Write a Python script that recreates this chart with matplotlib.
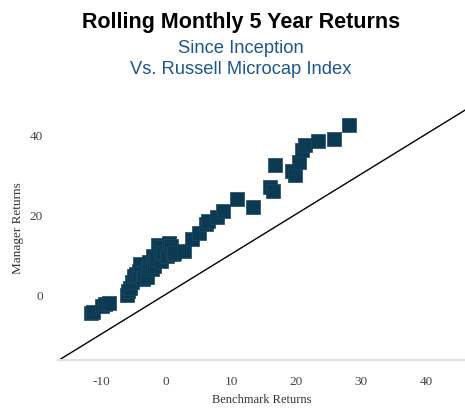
import matplotlib
matplotlib.use("Agg")
import matplotlib.pyplot as plt

plt.rcParams["axes.unicode_minus"] = False

# Rolling 5 year returns: benchmark (x) vs manager (y)
benchmark = [-11.5, -11.3, -9.8, -9.4, -8.8, -6.0, -5.8, -5.5, -5.3, -5.0,
             -4.6, -4.2, -4.0, -3.6, -3.4, -3.0, -2.8, -2.6, -2.2, -2.0,
             -1.8, -1.5, -1.3, -1.0, -0.8, -0.4, 0.1, 0.4, 0.7, 1.0,
             1.2, 2.7, 4.0, 5.1, 6.2, 6.5, 7.8, 8.8, 10.9, 13.4,
             16.0, 16.4, 16.7, 19.4, 19.9, 20.5, 20.9, 21.4, 23.4, 25.8, 28.2]
manager = [-4.8, -4.4, -3.0, -2.4, -2.2, -0.2, 0.9, 1.5, 3.0, 4.6,
           5.0, 5.8, 7.6, 3.8, 5.4, 4.2, 6.6, 8.0, 6.2, 9.6,
           7.1, 8.8, 12.4, 11.8, 8.3, 10.4, 9.6, 12.9, 12.1, 10.0,
           10.4, 10.8, 13.8, 15.2, 17.6, 18.3, 19.4, 20.8, 23.75, 21.9,
           26.9, 25.8, 32.25, 30.8, 29.7, 33.1, 36.1, 37.2, 38.4, 38.9, 42.2]
ticks = [-10, 0, 10, 20, 30, 40]
y_ticks = [0, 20, 40]

fig = plt.figure(figsize=(4.65, 4.10), dpi=100)
ax = fig.add_axes([0.125, 0.12, 0.875, 0.648])

# y = x reference line
ax.plot([-16.6, 46.0], [-16.6, 46.0], color="black", linewidth=1.0, zorder=1)

ax.scatter(benchmark, manager, marker="s", s=90, color="#0b3a52",
           edgecolors="#1d4760", linewidths=0.5, zorder=2)

ax.set_xlim(-16.6, 46.0)
ax.set_ylim(-16.4, 50)
ax.set_xticks(ticks)
ax.set_yticks(y_ticks)

for side in ["top", "right", "left"]:
    ax.spines[side].set_visible(False)
ax.spines["bottom"].set_color("#e2e2e2")
ax.spines["bottom"].set_linewidth(1.5)
ax.tick_params(length=0, labelsize=9.5, labelcolor="#444444")
ax.tick_params(axis="x", pad=11)
ax.tick_params(axis="y", pad=11)
for lab in ax.get_xticklabels() + ax.get_yticklabels():
    lab.set_family("Liberation Serif")

ax.set_xlabel("Benchmark Returns", family="Liberation Serif", fontsize=9,
              color="#333333", labelpad=4)
ax.set_ylabel("Manager Returns", family="Liberation Serif", fontsize=9.5,
              color="#333333", labelpad=4)

fig.text(0.518, 0.946, "Rolling Monthly 5 Year Returns", ha="center", va="center",
         fontsize=15.5, fontweight="bold", family="Liberation Sans", color="black")
fig.text(0.518, 0.881, "Since Inception", ha="center", va="center",
         fontsize=13.2, family="Liberation Sans", color="#1f5690")
fig.text(0.518, 0.830, "Vs. Russell Microcap Index", ha="center", va="center",
         fontsize=13.2, family="Liberation Sans", color="#1f5690")

fig.savefig("out.png", dpi=100)
